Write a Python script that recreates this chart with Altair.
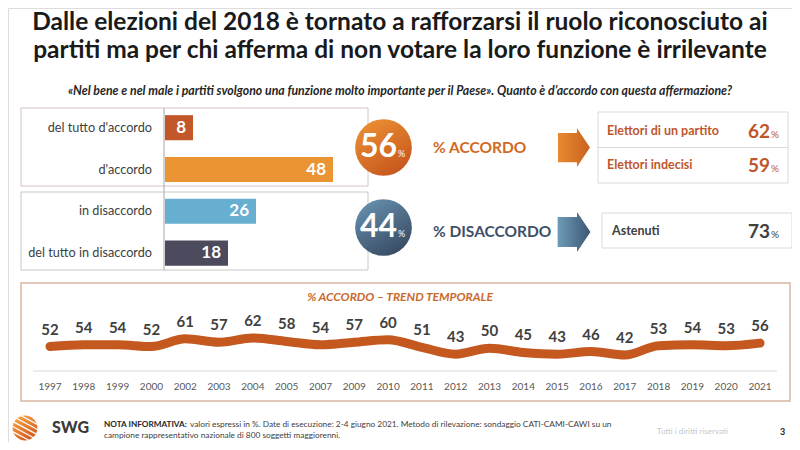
import math
import altair as alt
import pandas as pd

# ---------------- data ----------------
title_lines = [
    "Dalle elezioni del 2018 è tornato a rafforzarsi il ruolo riconosciuto ai",
    "partiti ma per chi afferma di non votare la loro funzione è irrilevante",
]
question = ("«Nel bene e nel male i partiti svolgono una funzione molto importante per il Paese». "
            "Quanto è d’accordo con questa affermazione?")
answer_labels = ["del tutto d'accordo", "d'accordo", "in disaccordo", "del tutto in disaccordo"]
answer_values = [8, 48, 26, 18]
answer_colors = ["#C2582A", "#EB9434", "#67AFD0", "#4C4A5D"]
summary_labels = ["% ACCORDO", "% DISACCORDO"]
summary_values = [56, 44]
party_groups = ["Elettori di un partito", "Elettori indecisi"]
party_values = [62, 59]
abstain_groups = ["Astenuti"]
abstain_values = [73]
trend_title = "% ACCORDO – TREND TEMPORALE"
trend_years = ["1997", "1998", "1999", "2000", "2002", "2003", "2004", "2005", "2007", "2009", "2010",
               "2011", "2012", "2013", "2014", "2015", "2016", "2017", "2018", "2019", "2020", "2021"]
trend_values = [52, 54, 54, 52, 61, 57, 62, 58, 54, 57, 60, 51, 43, 50, 45, 43, 46, 42, 53, 54, 53, 56]
note_bold = "NOTA INFORMATIVA:"
note_line1 = ("valori espressi in %. Date di esecuzione: 2-4 giugno 2021. Metodo di rilevazione: "
              "sondaggio CATI-CAMI-CAWI su un")
note_line2 = "campione rappresentativo nazionale di 800 soggetti maggiorenni."
rights = "Tutti i diritti riservati"
page_no = "3"
brand = "SWG"

FONT = "Lato"
ONE = alt.Data(values=[{"a": 1}])


def txt(text, x, y, size, color, weight="normal", align="left", baseline="middle", style="normal"):
    return alt.Chart(ONE).mark_text(
        text=text, fontSize=size, color=color, fontWeight=weight, align=align,
        baseline=baseline, fontStyle=style, font=FONT
    ).encode(x=alt.value(x), y=alt.value(y))


def box(x1, y1, x2, y2, stroke, sw=1.0, fill="#FFFFFF"):
    return alt.Chart(ONE).mark_rect(fill=fill, stroke=stroke, strokeWidth=sw).encode(
        x=alt.value(x1), x2=alt.value(x2), y=alt.value(y1), y2=alt.value(y2))


def rule(x1, y1, x2, y2, color, sw=1.0):
    return alt.Chart(ONE).mark_rule(color=color, strokeWidth=sw).encode(
        x=alt.value(x1), x2=alt.value(x2), y=alt.value(y1), y2=alt.value(y2))


def grad(c1, c2, x1=0, y1=0, x2=1, y2=1):
    return alt.LinearGradient(gradient="linear", x1=x1, y1=y1, x2=x2, y2=y2,
                              stops=[alt.GradientStop(color=c1, offset=0),
                                     alt.GradientStop(color=c2, offset=1)])


layers = []

# ---- titles ----
layers.append(txt(title_lines[0], 392, 22, 24.5, "#1A1A1A", "bold", "center", "alphabetic"))
layers.append(txt(title_lines[1], 392, 50, 24.5, "#1A1A1A", "bold", "center", "alphabetic"))
layers.append(txt(question, 392, 87, 12.3, "#262626", "bold", "center", "alphabetic", "italic"))

# ---- bar section ----
layers.append(box(13, 100, 360, 178, "#D4C4C4"))
layers.append(box(13, 184, 360, 262, "#C8C8C8"))
layers.append(rule(156, 100, 156, 262, "#A6A6A6"))

bars_df = pd.DataFrame({"label": answer_labels, "value": answer_values})
yband = alt.Y("label:N", axis=None,
              scale=alt.Scale(domain=answer_labels, range=[98.8, 266], paddingInner=0.4, paddingOuter=0.2))
xbar = alt.X("value:Q", axis=None, scale=alt.Scale(domain=[0, 58], range=[157, 360], nice=False))
layers.append(alt.Chart(bars_df).mark_bar().encode(
    x=xbar, y=yband,
    color=alt.Color("label:N", scale=alt.Scale(domain=answer_labels, range=answer_colors), legend=None)))
layers.append(alt.Chart(bars_df).mark_text(align="right", dx=-7, fontSize=17, fontWeight="bold",
                                           color="white", font=FONT).encode(
    x=xbar, y=yband, text=alt.Text("value:Q")))
layers.append(alt.Chart(bars_df).mark_text(align="right", fontSize=12.7, color="#404040", font=FONT).encode(
    x=alt.value(144), y=yband, text="label:N"))

# ---- summary circles ----
circ_specs = [
    (139.5, grad("#EC9033", "#C4541C", 0.2, 0, 0.8, 1)),
    (219.5, grad("#6690AE", "#37475F", 0.2, 0, 0.8, 1)),
]
for (cy, g), val in zip(circ_specs, summary_values):
    layers.append(alt.Chart(ONE).mark_circle(size=3217, fill=g, opacity=1).encode(
        x=alt.value(375.5), y=alt.value(cy)))
    layers.append(txt(str(val), 389, cy + 9.5, 32, "white", "bold", "right", "alphabetic"))
    layers.append(txt("%", 390, cy + 9.5, 9, "white", "normal", "left", "alphabetic"))

layers.append(txt(summary_labels[0], 425, 140, 15.5, "#D2691F", "bold", "left", "middle"))
layers.append(txt(summary_labels[1], 425, 224, 15.5, "#3E5069", "bold", "left", "middle"))

# ---- arrows ----
arrow = "M -0.82 -0.75 L 0.15 -0.75 L 0.15 -1 L 0.82 0 L 0.15 1 L 0.15 0.75 L -0.82 0.75 Z"
layers.append(alt.Chart(ONE).mark_point(shape=arrow, size=1521, filled=True, opacity=1, strokeWidth=0,
                                        fill=grad("#E98A30", "#C9621F", 0, 0, 1, 0)).encode(
    x=alt.value(566), y=alt.value(139.5)))
layers.append(alt.Chart(ONE).mark_point(shape=arrow, size=1600, filled=True, opacity=1, strokeWidth=0,
                                        fill=grad("#6E9CBA", "#3D5671", 0, 0, 1, 0)).encode(
    x=alt.value(566), y=alt.value(224)))

# ---- right boxes ----
layers.append(box(590, 104, 780, 175, "#D9D9D9"))
layers.append(rule(590, 139.5, 780, 139.5, "#D9D9D9"))
for (lab, val), cy in zip(zip(party_groups, party_values), [123, 157]):
    layers.append(txt(lab, 599, cy, 12.5, "#C0562B", "bold", "left", "middle"))
    layers.append(txt(str(val), 762, cy + 7, 19, "#C0562B", "bold", "right", "alphabetic"))
    layers.append(txt("%", 763, cy + 7, 10, "#C0562B", "normal", "left", "alphabetic"))

layers.append(box(594, 205, 784, 240, "#D9D9D9"))
layers.append(txt(abstain_groups[0], 604, 223, 12.5, "#404040", "bold", "left", "middle"))
layers.append(txt(str(abstain_values[0]), 762, 230, 19, "#404040", "bold", "right", "alphabetic"))
layers.append(txt("%", 763, 230, 10, "#404040", "normal", "left", "alphabetic"))

# ---- trend section ----
layers.append(box(13, 275, 782, 393, "#D8B6A3", 1.5))
layers.append(txt(trend_title, 392, 289, 12, "#C96A2C", "bold", "center", "middle", "italic"))
layers.append(rule(25, 363, 769, 363, "#D9D9D9"))

trend_df = pd.DataFrame({"year": trend_years, "value": trend_values})
tx = alt.X("year:O", axis=None,
           scale=alt.Scale(type="point", domain=trend_years, range=[42, 752], padding=0))
ty = alt.Y("value:Q", axis=None, scale=alt.Scale(domain=[42, 62], range=[347, 330], nice=False, zero=False))
layers.append(alt.Chart(trend_df).mark_line(interpolate="monotone", strokeWidth=9, color="#C4581F",
                                            strokeCap="round").encode(x=tx, y=ty))
layers.append(alt.Chart(trend_df).mark_text(dy=-17, fontSize=15, fontWeight="bold", color="#404040",
                                            font=FONT).encode(x=tx, y=ty, text="value:Q"))
layers.append(alt.Chart(trend_df).mark_text(fontSize=10, color="#595959", font=FONT).encode(
    x=tx, y=alt.value(379), text="year:N"))

# ---- footer ----
cx, cy, r = 17, 420, 14
layers.append(alt.Chart(ONE).mark_circle(size=math.pi * r * r, opacity=1,
                                         fill=grad("#F6A744", "#D4501C", 0.2, 0, 0.8, 1)).encode(
    x=alt.value(cx), y=alt.value(cy)))
th = math.radians(28)
ux, uy = math.cos(th), math.sin(th)
nx, ny = -uy, ux
for d in [-9, -4.5, 0, 4.5, 9]:
    h = math.sqrt(r * r - d * d) - 0.5
    px, py = cx + d * nx, cy + d * ny
    layers.append(rule(px - h * ux, py - h * uy, px + h * ux, py + h * uy, "white", 1.3))
layers.append(txt(brand, 44, 420, 16, "#3A3A3A", 900, "left", "middle"))
layers.append(txt(note_bold, 96, 417, 8.2, "#262626", "bold", "left", "middle"))
layers.append(txt(note_line1, 182, 417, 8.3, "#404040", "normal", "left", "middle"))
layers.append(txt(note_line2, 96, 428, 8.3, "#404040", "normal", "left", "middle"))
layers.append(txt(rights, 649, 424, 8, "#C8C8C8", "normal", "left", "middle"))
layers.append(txt(page_no, 772, 424, 9, "#262626", "bold", "left", "middle"))

chart = alt.layer(*layers).resolve_scale(x="independent", y="independent", color="independent").properties(
    width=784, height=434, autosize=alt.AutoSizeParams(type="none"), padding=0
).configure_view(stroke=None).configure(background="white")

chart.save("out.html", embed_options={"renderer": "svg", "actions": False})
